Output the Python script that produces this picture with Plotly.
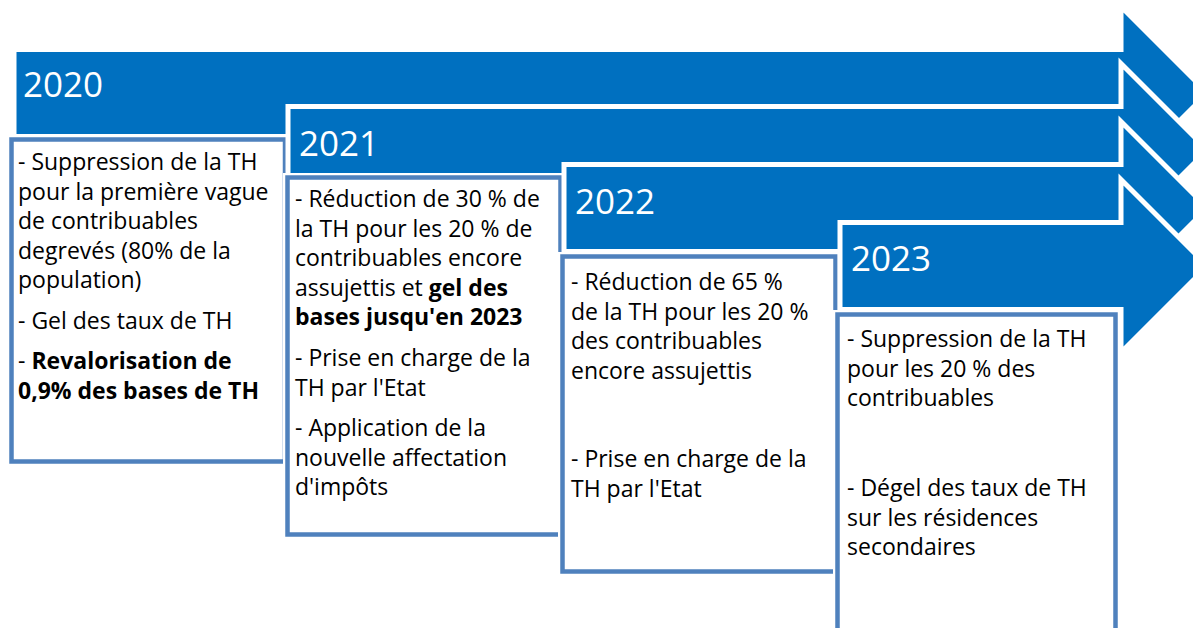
import plotly.graph_objects as go

W, H = 1193, 628

# ---- content ----
years = ["2020", "2021", "2022", "2023"]

box1_paragraphs = [
    ["- Suppression de la TH", "pour la première vague", "de contribuables",
     "degrevés (80% de la", "population)"],
    ["- Gel des taux de TH"],
    ["- <b>Revalorisation de</b>", "<b>0,9% des bases de TH</b>"],
]
box2_paragraphs = [
    ["- Réduction de 30 % de", "la TH pour les 20 % de", "contribuables encore",
     "assujettis et <b>gel des</b>", "<b>bases jusqu'en 2023</b>"],
    ["- Prise en charge de la", "TH par l'Etat"],
    ["- Application de la", "nouvelle affectation", "d'impôts"],
]
box3_paragraphs = [
    ["- Réduction de 65 %", "de la TH pour les 20 %", "des contribuables",
     "encore assujettis"],
    ["- Prise en charge de la", "TH par l'Etat"],
]
box4_paragraphs = [
    ["- Suppression de la TH", "pour les 20 % des", "contribuables"],
    ["- Dégel des taux de TH", "sur les résidences", "secondaires"],
]
boxes_text = [box1_paragraphs, box2_paragraphs, box3_paragraphs, box4_paragraphs]

# ---- geometry / style ----
ARROW_BLUE = "#0070C0"
BOX_BLUE = "#4F81BD"
FONT = "Open Sans"

arrow_left = [14, 288, 564, 840]
arrow_top = [49.5, 106.5, 164.5, 222.5]
body_h = 87
head_ext = 43
head_x = 1121

box_rects = [  # x0, y0, x1, y1 (border centre lines)
    (11.5, 139.5, 285, 461.5),
    (287.5, 177.5, 560.5, 534.5),
    (562.5, 256.5, 835.5, 571.5),
    (837.5, 314.5, 1115.5, 660),
]
year_pos = [(21, 83), (297, 142), (573, 200), (849, 257)]
text_x = [16, 293, 569, 845]
para_y = [[161, 320, 360], [198, 357, 427], [281, 458], [338, 487]]
LINE = 29.5

shapes = []
annotations = []

for i in range(4):
    x0 = arrow_left[i]
    t = arrow_top[i]
    b = t + body_h
    c = (t + b) / 2
    half = body_h / 2 + head_ext
    tip = head_x + half
    path = (f"M {x0},{t} L {head_x},{t} L {head_x},{t-head_ext} L {tip},{c} "
            f"L {head_x},{b+head_ext} L {head_x},{b} L {x0},{b} Z")
    shapes.append(dict(type="path", path=path, xref="x", yref="y",
                       fillcolor=ARROW_BLUE, line=dict(color="white", width=5),
                       layer="above"))
    bx0, by0, bx1, by1 = box_rects[i]
    shapes.append(dict(type="rect", x0=bx0, y0=by0, x1=bx1, y1=by1, xref="x", yref="y",
                       fillcolor="white", line=dict(color="white", width=9),
                       layer="above"))
    shapes.append(dict(type="rect", x0=bx0, y0=by0, x1=bx1, y1=by1, xref="x", yref="y",
                       fillcolor="white", line=dict(color=BOX_BLUE, width=4.5),
                       layer="above"))

for i, yr in enumerate(years):
    annotations.append(dict(x=year_pos[i][0], y=year_pos[i][1], text=yr, xref="x", yref="y",
                            showarrow=False, xanchor="left", yanchor="middle",
                            font=dict(family=FONT, size=35, color="white")))

for i, paras in enumerate(boxes_text):
    for p, lines in enumerate(paras):
        y0 = para_y[i][p]
        for k, line in enumerate(lines):
            annotations.append(dict(x=text_x[i], y=y0 + k * LINE, text=line,
                                    xref="x", yref="y", showarrow=False,
                                    xanchor="left", yanchor="middle",
                                    font=dict(family=FONT, size=23, color="black")))

fig = go.Figure()
fig.update_layout(
    width=W, height=H, margin=dict(l=0, r=0, t=0, b=0),
    paper_bgcolor="white", plot_bgcolor="white",
    xaxis=dict(range=[0, W], visible=False, fixedrange=True),
    yaxis=dict(range=[H, 0], visible=False, fixedrange=True),
    shapes=shapes, annotations=annotations, showlegend=False,
)
fig.write_html("out.html", config={"displayModeBar": False, "staticPlot": True},
               post_script="document.body.style.margin='0';document.body.style.overflow='hidden';")
